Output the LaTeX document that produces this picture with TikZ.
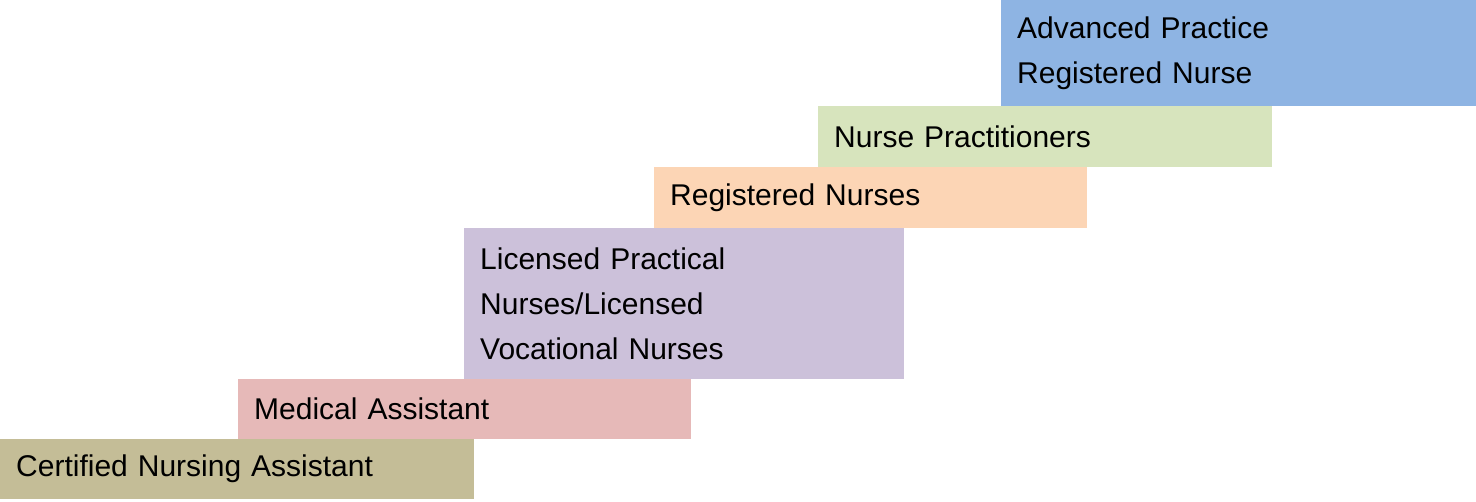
\documentclass[tikz,border=0pt]{standalone}
\usepackage{fontspec}
\setmainfont{Liberation Sans}
\definecolor{cnacol}{HTML}{C4BD97}
\definecolor{macol}{HTML}{E6B9B8}
\definecolor{lpncol}{HTML}{CCC1DA}
\definecolor{rncol}{HTML}{FCD5B5}
\definecolor{npcol}{HTML}{D7E4BD}
\definecolor{aprncol}{HTML}{8EB4E3}
\tikzset{stepbox/.style 2 args={anchor=north west, inner xsep=16pt, inner ysep=0pt,
  minimum width=#1pt, text width=#1pt-32pt, minimum height=#2pt, align=left,
  font=\fontsize{30}{45}\selectfont}}
\begin{document}
\begin{tikzpicture}[x=1pt,y=-1pt]
\useasboundingbox (0,0) rectangle (1476,501);

\node[stepbox={474}{60}, fill=cnacol] (cna) at (0,439) {Certified Nursing Assistant};
\node[stepbox={453}{60}, fill=macol] (ma) at (238,379) {Medical Assistant};
\node[stepbox={440}{151}, fill=lpncol] (lpn) at (464,228) {Licensed Practical\\Nurses/Licensed\\Vocational Nurses};
\node[stepbox={433}{61}, fill=rncol] (rn) at (654,167) {Registered Nurses};
\node[stepbox={454}{61}, fill=npcol] (np) at (818,106) {Nurse Practitioners};
\node[stepbox={475}{106}, fill=aprncol] (aprn) at (1001,0) {Advanced Practice\\Registered Nurse};

\end{tikzpicture}
\end{document}
